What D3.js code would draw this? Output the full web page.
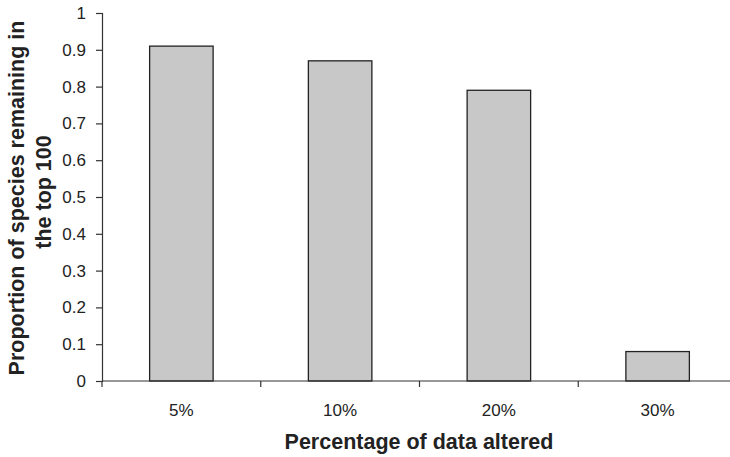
<!DOCTYPE html>
<html><head><meta charset="utf-8">
<script src="https://cdn.jsdelivr.net/npm/d3@7"></script>
<style>body{margin:0;background:#fff}svg{display:block}</style>
</head><body>
<svg id="c" width="730" height="457"></svg>
<script>
const categories = ["5%", "10%", "20%", "30%"];
const values = [0.91, 0.87, 0.79, 0.08];
const yTicks = [0, 0.1, 0.2, 0.3, 0.4, 0.5, 0.6, 0.7, 0.8, 0.9, 1];
const yTickLabels = ["0", "0.1", "0.2", "0.3", "0.4", "0.5", "0.6", "0.7", "0.8", "0.9", "1"];
const xTitle = "Percentage of data altered";
const yTitle = ["Proportion of species remaining in", "the top 100"];

(function () {
const svg = d3.select("#c");
const mLeft = 102, mRight = 737, mTop = 13, mBottom = 381;
const font = "Liberation Sans, Arial, sans-serif";

const x = d3.scaleBand().domain(categories).range([mLeft, mRight]).paddingInner(0.6).paddingOuter(0.3);
const y = d3.scaleLinear().domain([0, 1]).range([mBottom, mTop]);

// bars
svg.append("g").selectAll("rect").data(values).join("rect")
  .attr("x", (d, i) => x(categories[i]))
  .attr("y", d => y(d))
  .attr("width", x.bandwidth())
  .attr("height", d => y(0) - y(d))
  .attr("fill", "#c8c8c9")
  .attr("stroke", "#222")
  .attr("stroke-width", 1.3);

// y axis
const yAxis = d3.axisLeft(y).tickValues(yTicks).tickFormat((d, i) => yTickLabels[i]).tickSize(6).tickPadding(10);
const gy = svg.append("g").attr("transform", `translate(${mLeft},0)`).call(yAxis);
gy.select(".domain").attr("stroke", "#333").attr("stroke-width", 1.2);
gy.selectAll(".tick line").attr("stroke", "#333").attr("stroke-width", 1.2);
gy.selectAll("text").attr("font-family", font).attr("font-size", 17).attr("fill", "#222");

// x axis
const boundaries = d3.range(categories.length + 1).map(i => mLeft + i * x.step());
const gx = svg.append("g");
gx.append("line").attr("x1", mLeft).attr("x2", mRight).attr("y1", mBottom).attr("y2", mBottom)
  .attr("stroke", "#333").attr("stroke-width", 1.2);
gx.selectAll("line.t").data(boundaries).join("line").attr("class", "t")
  .attr("x1", d => d).attr("x2", d => d).attr("y1", mBottom).attr("y2", mBottom + 6)
  .attr("stroke", "#333").attr("stroke-width", 1.2);
gx.selectAll("text").data(categories).join("text")
  .attr("x", d => x(d) + x.bandwidth() / 2).attr("y", 416)
  .attr("text-anchor", "middle").attr("font-family", font).attr("font-size", 17).attr("fill", "#222")
  .text(d => d);

// titles
svg.append("text").attr("x", 419).attr("y", 449).attr("text-anchor", "middle")
  .attr("font-family", font).attr("font-size", 21.5).attr("font-weight", "bold").attr("fill", "#222")
  .text(xTitle);
const yt = svg.append("text").attr("transform", "translate(24,198) rotate(-90)")
  .attr("text-anchor", "middle").attr("font-family", font).attr("font-size", 21.5)
  .attr("font-weight", "bold").attr("fill", "#222");
yTitle.forEach((t, i) => yt.append("tspan").attr("x", i === 0 ? 0 : 6).attr("dy", i === 0 ? 0 : 27).text(t));
})();
</script>
</body></html>
